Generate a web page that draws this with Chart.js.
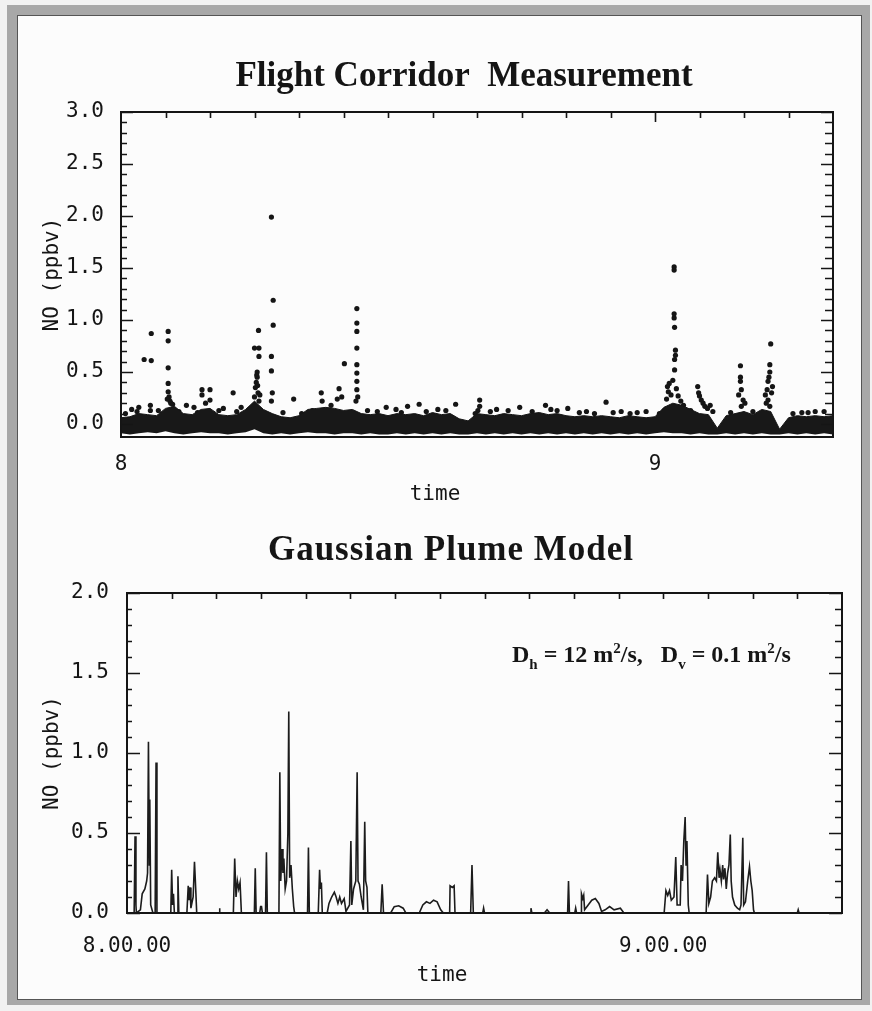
<!DOCTYPE html>
<html>
<head>
<meta charset="utf-8">
<script src="https://cdn.jsdelivr.net/npm/chart.js@4.4.1/dist/chart.umd.min.js"></script>
<style>
  body { margin: 0; width: 872px; height: 1011px; background: #f2f2f2; position: relative; overflow: hidden; }
  #frame { position: absolute; left: 7px; top: 5px; width: 863px; height: 1000px; background: #a8a8a8; }
  #sheet { position: absolute; left: 17px; top: 15px; width: 845px; height: 985px; background: #fcfcfc; border: 1px solid #555; box-sizing: border-box; }
  canvas { position: absolute; left: 0; top: 0; }
</style>
</head>
<body>
<div id="frame"></div>
<div id="sheet"></div>
<canvas id="flightChart" width="872" height="1011"></canvas>
<canvas id="plumeChart" width="872" height="1011"></canvas>
<script>
// time is in minutes after 8:00
const xLabelMinutes = [0, 60];
const flightXLabels = ['8', '9'];
const plumeXLabels = ['8.00.00', '9.00.00'];
const flightYTicks = [0, 0.5, 1, 1.5, 2, 2.5, 3];
const plumeYTicks = [0, 0.5, 1, 1.5, 2];

// Flight corridor measurement: dense band of readings near zero (upper / lower edge, per minute)
const bandTime = [0,1,2,3,4,5,6,7,8,9,10,11,12,13,14,15,16,17,18,19,20,
  21,22,23,24,25,26,27,28,29,30,31,32,33,34,35,36,37,38,39,40,
  41,42,43,44,45,46,47,48,49,50,51,52,53,54,55,56,57,58,59,60,
  61,62,63,64,65,66,67,68,69,70,71,72,73,74,75,76,77,78,79,80];
const bandHigh = [0.06,0.07,0.10,0.09,0.08,0.15,0.17,0.10,0.09,0.14,0.15,
  0.09,0.08,0.09,0.14,0.22,0.14,0.10,0.07,0.06,0.08,
  0.14,0.15,0.16,0.15,0.13,0.14,0.10,0.09,0.10,0.08,
  0.10,0.09,0.10,0.08,0.11,0.09,0.10,0.05,0.03,0.10,
  0.09,0.08,0.10,0.09,0.08,0.10,0.11,0.09,0.10,0.08,
  0.07,0.08,0.07,0.08,0.07,0.06,0.08,0.07,0.06,0.07,
  0.16,0.20,0.18,0.14,0.10,0.09,-0.04,0.08,0.10,0.12,
  0.09,0.14,0.12,-0.05,0.06,0.08,0.07,0.08,0.07,0.08];
const bandLow = [-0.09,-0.10,-0.09,-0.08,-0.09,-0.07,-0.09,-0.10,-0.09,-0.08,-0.09,
  -0.09,-0.10,-0.09,-0.08,-0.05,-0.09,-0.10,-0.09,-0.10,-0.09,
  -0.08,-0.09,-0.09,-0.10,-0.09,-0.09,-0.10,-0.09,-0.10,-0.10,
  -0.09,-0.10,-0.09,-0.10,-0.09,-0.10,-0.09,-0.10,-0.10,-0.09,
  -0.10,-0.09,-0.10,-0.09,-0.10,-0.09,-0.10,-0.09,-0.10,-0.09,
  -0.10,-0.09,-0.10,-0.09,-0.10,-0.09,-0.10,-0.09,-0.10,-0.09,
  -0.08,-0.09,-0.09,-0.10,-0.09,-0.10,-0.10,-0.09,-0.10,-0.09,
  -0.10,-0.09,-0.10,-0.10,-0.09,-0.10,-0.09,-0.10,-0.09,-0.10];

// single readings standing out above the band
const spikeTime = [1.2,2.0,2.6,3.4,3.4,3.3,3.3,
  5.3,5.3,5.3,5.3,5.3,5.4,5.5,5.2,5.6,5.8,7.35,8.2,
  9.1,10.0,10.0,9.1,9.5,12.6,11.5,13.5,
  15.0,15.5,15.5,15.45,15.3,15.3,15.2,15.1,15.4,15.6,15.0,15.5,15.25,15.35,
  16.9,17.1,17.1,16.9,16.9,17.0,16.9,19.4,
  22.5,22.6,24.5,24.8,24.3,25.1,23.6,
  26.5,26.5,26.5,26.5,26.5,26.5,26.5,26.5,26.6,26.4,
  27.7,29.8,30.9,32.2,33.5,35.6,37.6,40.3,40.3,40.1,42.2,44.8,47.7,48.3,50.2,52.3,54.5,56.2,58.0,
  62.15,62.15,62.15,62.15,62.2,62.3,62.3,62.2,62.2,62.0,61.6,61.4,61.5,61.8,62.4,62.6,62.9,61.3,63.2,
  64.8,64.9,65.0,65.2,65.4,65.6,66.2,65.9,
  69.6,69.6,69.6,69.7,69.9,69.7,69.4,70.1,
  73.0,72.9,72.9,72.8,72.7,72.6,72.7,72.9,72.4,73.1,72.5,73.2,78.0,76.5,
  0.5,1.8,4.2,6.5,8.6,11.0,13.0,14.5,18.2,20.3,21.5,28.8,31.5,34.3,36.5,39.8,
  41.5,43.5,46.2,49.0,51.5,53.2,55.3,57.2,59.0,60.5,64.0,66.5,68.5,71.0,75.5,77.2,79.0];
const spikeValue = [0.14,0.16,0.62,0.61,0.87,0.18,0.13,
  0.89,0.80,0.54,0.39,0.31,0.26,0.22,0.24,0.20,0.19,0.18,0.16,
  0.33,0.33,0.23,0.28,0.20,0.30,0.15,0.16,
  0.73,0.73,0.65,0.90,0.50,0.45,0.40,0.35,0.30,0.28,0.26,0.22,0.47,0.37,
  1.99,1.19,0.95,0.65,0.51,0.30,0.22,0.24,
  0.30,0.22,0.34,0.26,0.24,0.58,0.18,
  1.11,0.97,0.89,0.73,0.57,0.49,0.41,0.33,0.26,0.22,
  0.13,0.16,0.14,0.17,0.19,0.14,0.19,0.23,0.17,0.13,0.14,0.16,0.18,0.14,0.15,0.12,0.21,0.12,0.11,
  1.51,1.48,1.06,1.02,0.93,0.71,0.66,0.62,0.52,0.42,0.39,0.36,0.31,0.28,0.34,0.27,0.22,0.24,0.18,
  0.36,0.30,0.27,0.23,0.20,0.17,0.18,0.15,
  0.56,0.45,0.41,0.33,0.23,0.17,0.28,0.20,
  0.77,0.57,0.50,0.45,0.41,0.33,0.23,0.17,0.28,0.30,0.20,0.36,0.12,0.11,
  0.10,0.12,0.13,0.12,0.11,0.13,0.12,0.14,0.11,0.10,0.13,0.12,0.11,0.12,0.13,0.10,
  0.12,0.13,0.12,0.13,0.11,0.10,0.11,0.10,0.12,0.10,0.13,0.12,0.11,0.12,0.10,0.11,0.12];

// Gaussian plume model trace
const plumeTime = [0,0.8,0.9,1.0,1.05,
  1.5,1.7,2.0,2.2,2.3,2.4,2.5,2.55,2.65,2.9,
  3.15,3.25,3.35,
  4.9,5.0,5.1,5.2,5.3,5.6,5.7,5.8,
  6.7,6.85,6.95,7.05,7.15,7.4,7.55,7.65,7.8,
  10.3,10.35,10.4,
  11.9,12.05,12.2,12.35,12.5,12.65,12.8,
  14.25,14.35,14.45,14.85,14.95,15.05,15.15,15.5,15.6,15.7,
  17.0,17.1,17.2,17.35,17.45,17.55,17.7,17.85,18.0,18.1,18.2,18.35,18.5,18.65,18.75,
  20.2,20.3,20.4,21.4,21.55,21.65,21.75,21.85,
  22.4,22.6,22.9,23.2,23.4,23.6,23.8,24.0,24.3,24.5,
  24.9,25.05,25.15,25.35,25.6,25.75,25.85,26.0,26.2,26.45,26.6,26.7,26.85,26.95,
  28.4,28.55,28.7,29.5,29.9,30.4,30.9,31.2,
  32.7,33.1,33.5,33.9,34.3,34.7,35.1,35.4,
  36.1,36.15,36.4,36.6,36.7,38.45,38.6,38.75,39.8,39.9,40.0,
  45.1,45.2,45.3,46.7,47.0,47.3,49.3,49.4,49.5,50.1,50.2,50.3,
  50.8,50.85,51.0,51.1,51.2,51.6,52.0,52.4,52.8,53.1,53.5,54.0,54.5,55.2,55.6,
  60.1,60.3,60.5,60.7,60.9,61.2,61.4,61.55,61.9,62.0,62.15,62.3,62.45,62.55,62.65,62.8,62.9,
  64.8,64.95,65.1,65.3,65.5,65.75,65.95,66.1,66.25,66.35,66.5,66.65,66.75,66.9,67.05,67.2,67.35,67.5,67.6,67.75,
  68.0,68.3,68.55,68.7,68.9,69.0,69.2,69.45,69.65,69.8,69.95,70.1,70.2,
  75.0,75.1,75.2,80];
const plumeValue = [0,0,0.48,0.05,0,
  0.02,0.12,0.15,0.2,0.25,1.07,0.3,0.71,0.05,0,
  0,0.94,0,
  0,0.27,0.05,0.12,0,0,0.23,0,
  0,0.17,0.08,0.16,0.03,0.1,0.32,0.2,0,
  0,0.03,0,
  0,0.34,0.1,0.2,0.15,0.19,0,
  0,0.28,0,0,0.04,0.04,0,0,0.38,0,
  0,0.88,0.2,0.4,0.25,0.34,0.15,0.2,0.5,1.26,0.22,0.3,0.15,0.04,0,
  0,0.41,0,0,0.27,0.15,0.19,0,
  0,0.06,0.1,0.13,0.1,0.06,0.1,0.06,0.09,0.01,
  0.05,0.45,0.05,0.15,0.2,0.88,0.2,0.18,0.1,0.02,0.57,0.2,0.16,0,
  0,0.18,0,0,0.04,0.045,0.03,0,
  0,0.05,0.07,0.06,0.08,0.07,0.02,0,
  0,0.17,0.16,0.17,0,0,0.3,0,0,0.03,0,
  0,0.03,0,0,0.02,0,0,0.2,0,0,0.03,0,
  0,0.12,0.09,0.11,0.02,0.05,0.08,0.09,0.06,0.01,0.02,0.04,0.02,0.03,0,
  0,0.14,0.11,0.14,0.08,0.1,0.35,0.05,0.05,0.3,0.2,0.45,0.6,0.3,0.45,0.05,0,
  0,0.24,0.06,0.1,0.2,0.22,0.2,0.38,0.22,0.27,0.2,0.3,0.21,0.28,0.15,0.25,0.3,0.49,0.2,0.1,
  0.05,0.03,0.02,0.05,0.47,0.05,0.07,0.2,0.29,0.2,0.14,0.02,0,
  0,0.02,0,0];

const INK = '#151515';
const monoFont = { family: '"DejaVu Sans Mono", monospace', size: 21 };
Chart.defaults.color = INK;
Chart.defaults.font.family = '"DejaVu Sans Mono", monospace';

// tick marks drawn inward on all four sides, plus the closed frame
function frameTicks(o) {
  return {
    id: 'frameTicks',
    afterDatasetsDraw(chart) {
      const { ctx, chartArea: a, scales: { x, y } } = chart;
      ctx.save();
      ctx.strokeStyle = INK;
      ctx.lineWidth = 1.6;
      ctx.beginPath();
      for (let k = 0; k * 0.1 <= y.max + 1e-6; k++) {
        const py = Math.round(y.getPixelForValue(k * 0.1)) + 0.5;
        const major = k % 5 === 0;
        ctx.moveTo(a.left, py); ctx.lineTo(a.left + (major ? o.leftMajor : o.leftMinor), py);
        ctx.moveTo(a.right, py); ctx.lineTo(a.right - (major ? o.rightMajor : o.rightMinor), py);
      }
      for (let m = 5; m < x.max; m += 5) {
        const px = Math.round(x.getPixelForValue(m)) + 0.5;
        ctx.moveTo(px, a.top); ctx.lineTo(px, a.top + (m % 60 === 0 ? o.topMajor : o.topMinor));
      }
      ctx.stroke();
      ctx.lineWidth = 2;
      ctx.strokeRect(a.left, a.top, a.right - a.left, a.bottom - a.top);
      ctx.restore();
    }
  };
}

// free text: titles, axis caption, model parameters
function pageText(items) {
  return {
    id: 'pageText',
    afterDraw(chart) {
      const ctx = chart.ctx;
      ctx.save();
      ctx.fillStyle = INK;
      items.forEach(it => {
        ctx.letterSpacing = it.spacing || '0px';
        if (it.parts) {
          ctx.textAlign = 'left';
          let cx = it.x;
          it.parts.forEach(p => {
            const small = p.sub || p.sup;
            ctx.font = `bold ${small ? Math.round(it.size * 0.62) : it.size}px "Liberation Serif", serif`;
            const dy = p.sub ? it.size * 0.3 : p.sup ? -it.size * 0.36 : 0;
            ctx.fillText(p.t, cx, it.y + dy);
            cx += ctx.measureText(p.t).width;
          });
        } else {
          ctx.font = it.font;
          ctx.textAlign = 'center';
          ctx.fillText(it.text, it.x, it.y);
        }
      });
      ctx.restore();
    }
  };
}

function xScale(labels, height, pad) {
  return {
    type: 'linear', min: 0, max: 80,
    grid: { display: false }, border: { display: false },
    afterBuildTicks: s => { s.ticks = xLabelMinutes.map(v => ({ value: v })); },
    afterFit: s => { s.height = height; },
    ticks: { font: monoFont, color: INK, padding: pad, maxRotation: 0, autoSkip: false,
      callback: v => labels[xLabelMinutes.indexOf(v)] }
  };
}

function yScale(ticks, min, max, width, pad) {
  return {
    min: min, max: max,
    grid: { display: false }, border: { display: false },
    afterBuildTicks: s => { s.ticks = ticks.map(v => ({ value: v })); },
    afterFit: s => { s.width = width; },
    ticks: { font: monoFont, color: INK, padding: pad, callback: v => v.toFixed(1) },
    title: { display: true, text: 'NO (ppbv)', font: monoFont, color: INK, padding: { top: 4, bottom: 0 } }
  };
}

new Chart(document.getElementById('flightChart'), {
  type: 'scatter',
  data: {
    datasets: [
      { type: 'line', data: bandTime.map((t, i) => ({ x: t, y: bandLow[i] })),
        borderWidth: 0, pointRadius: 0, fill: false, tension: 0 },
      { type: 'line', data: bandTime.map((t, i) => ({ x: t, y: bandHigh[i] })),
        borderWidth: 1, borderColor: INK, backgroundColor: '#181818', pointRadius: 0, fill: '-1', tension: 0 },
      { data: spikeTime.map((t, i) => ({ x: t, y: spikeValue[i] })),
        pointRadius: 2.6, backgroundColor: INK, borderWidth: 0 }
    ]
  },
  options: {
    responsive: false, animation: false,
    layout: { padding: { left: 36, right: 39, top: 112, bottom: 511 } },
    plugins: { legend: { display: false }, tooltip: { enabled: false } },
    scales: {
      x: xScale(flightXLabels, 63, 7),
      y: yScale(flightYTicks, -0.125, 3, 85, 9)
    }
  },
  plugins: [
    frameTicks({ leftMinor: 6, leftMajor: 12, rightMinor: 8, rightMajor: 12, topMinor: 6, topMajor: 10 }),
    pageText([
      { text: 'Flight Corridor  Measurement', x: 464, y: 86, font: 'bold 35px "Liberation Serif", serif' },
      { text: 'time', x: 435, y: 500, font: '21px "DejaVu Sans Mono", monospace' }
    ])
  ]
});

new Chart(document.getElementById('plumeChart'), {
  type: 'line',
  data: {
    datasets: [
      { data: plumeTime.map((t, i) => ({ x: t, y: plumeValue[i] })),
        borderColor: '#1c1c1c', borderWidth: 1.6, pointRadius: 0, fill: false, tension: 0 }
    ]
  },
  options: {
    responsive: false, animation: false,
    layout: { padding: { left: 36, right: 30, top: 593, bottom: 0 } },
    plugins: { legend: { display: false }, tooltip: { enabled: false } },
    scales: {
      x: xScale(plumeXLabels, 98, 13),
      y: yScale(plumeYTicks, 0, 2, 91, 10)
    }
  },
  plugins: [
    frameTicks({ leftMinor: 5, leftMajor: 13, rightMinor: 7, rightMajor: 13, topMinor: 6, topMajor: 6 }),
    pageText([
      { text: 'Gaussian Plume Model', x: 451, y: 560, font: 'bold 35px "Liberation Serif", serif', spacing: '1px' },
      { text: 'time', x: 442, y: 981, font: '21px "DejaVu Sans Mono", monospace' },
      { x: 512, y: 662, size: 24, parts: [
        { t: 'D' }, { t: 'h', sub: true }, { t: ' = 12 m' }, { t: '2', sup: true }, { t: '/s,   D' },
        { t: 'v', sub: true }, { t: ' = 0.1 m' }, { t: '2', sup: true }, { t: '/s' }
      ] }
    ])
  ]
});
</script>
</body>
</html>
